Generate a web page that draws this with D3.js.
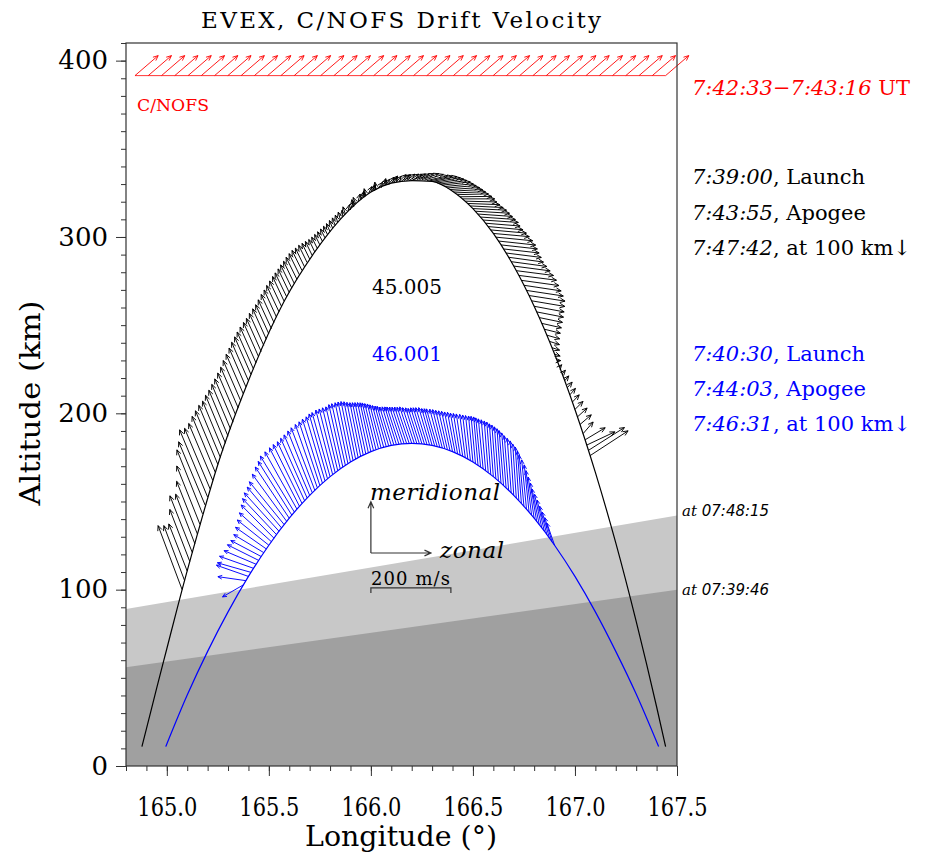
<!DOCTYPE html>
<html>
<head>
<meta charset="utf-8">
<script src="https://cdn.jsdelivr.net/npm/d3@7"></script>
<style>
body { margin: 0; background: #fff; }
</style>
</head>
<body>
<script>
// ---- data ----
// rocket 45.005 (black) trajectory, lon (deg) / alt (km)
var blackTrackLon = [164.878, 164.9, 164.95, 165.0, 165.05, 165.075, 165.15, 165.25, 165.4, 165.575, 165.725, 165.85, 166.0, 166.1, 166.2, 166.3, 166.4, 166.5, 166.6, 166.7, 166.8, 166.9, 167.0, 167.1, 167.2, 167.3, 167.4, 167.444];
var blackTrackAlt = [11, 21, 44, 66.5, 89, 100, 131.5, 171, 218.5, 263.5, 291.5, 310, 325.5, 330.5, 332, 331.5, 326, 316.1, 302, 283.5, 260.7, 233.6, 202.2, 166.5, 126.5, 82, 33.6, 11];

// rocket 46.001 (blue) trajectory
var blueTrackLon = [164.995, 165.1, 165.2, 165.3, 165.4, 165.5, 165.6, 165.7, 165.8, 165.9, 166.0, 166.1, 166.2, 166.3, 166.4, 166.5, 166.6, 166.7, 166.8, 166.9, 167.0, 167.1, 167.2, 167.3, 167.41];
var blueTrackAlt = [11, 40.2, 65, 87.4, 107.5, 125.2, 140.5, 153.5, 164.1, 172.4, 178.3, 181.8, 183, 181.8, 178.3, 172.4, 164.1, 153.5, 140.5, 125.2, 107.5, 87.4, 65, 40.8, 11];

// drift vectors: [lon, alt, zonal m/s, meridional m/s]
var blackVectors = [
  [165.075, 100, -60, 160], [165.0875, 105, -52, 138], [165.1, 110.5, -46, 118], [165.1125, 116, -50, 130],
  [165.125, 121, -56, 142], [165.1375, 126, -48, 124], [165.15, 131.5, -52, 132], [165.1625, 137, -58, 146],
  [165.175, 143, -64, 160], [165.1875, 148, -66, 158], [165.2, 152.5, -70, 168], [165.2125, 157, -64, 152],
  [165.225, 162, -60, 142], [165.2375, 166.5, -58, 140], [165.25, 171, -56, 134], [165.2625, 175, -54, 130],
  [165.275, 179, -51, 123], [165.2875, 183, -50, 120], [165.3, 187, -48, 115], [165.3125, 191, -47, 112],
  [165.325, 195, -46, 108], [165.3375, 199, -45, 105], [165.35, 203, -44, 102], [165.3625, 207, -44, 101],
  [165.375, 211, -43, 99], [165.3875, 215, -42, 97], [165.4, 218.5, -42, 96], [165.4125, 222, -41, 94],
  [165.425, 225, -41, 93], [165.4375, 228.5, -40, 90], [165.45, 232, -38, 86], [165.4625, 235, -37, 83],
  [165.475, 238.5, -36, 80], [165.4875, 242, -34, 76], [165.5, 245, -33, 73], [165.5125, 248, -33, 72],
  [165.525, 251.5, -32, 70], [165.5375, 254.5, -31, 68], [165.55, 257.5, -31, 66], [165.5625, 260.5, -30, 64],
  [165.575, 263.5, -29, 62], [165.5875, 266, -29, 60], [165.6, 268.5, -28, 59], [165.6125, 271, -28, 58],
  [165.625, 273.5, -27, 56], [165.6375, 276, -27, 55], [165.65, 278.5, -26, 53], [165.6625, 281, -25, 50],
  [165.675, 283, -23, 47], [165.6875, 285.5, -21, 43], [165.7, 287.5, -19, 39], [165.7125, 289.5, -17, 35],
  [165.725, 291.5, -15, 31], [165.7375, 293.5, -14, 28], [165.75, 295.5, -13, 26], [165.7625, 297.5, -12, 24],
  [165.775, 299.5, -11, 22], [165.7875, 301.3, -10, 21], [165.8, 303, -9, 20], [165.8125, 305, -8, 19],
  [165.825, 306.5, -7, 19], [165.8375, 308.3, -6, 18], [165.85, 310, -5, 18], [165.8625, 311.5, -2, 16],
  [165.875, 313, -6, 18], [165.8875, 314.5, 4, 17], [165.9, 316, 8, 18], [165.9125, 317.5, -3, 16],
  [165.925, 319, -6, 15], [165.9375, 320.3, 5, 18], [165.95, 321.5, 10, 18], [165.9625, 322.5, 1, 15],
  [165.975, 323.5, -4, 17], [165.9875, 324.5, 9, 18], [166.0, 325.5, 12, 16], [166.0125, 326.3, 4, 15],
  [166.025, 327, -3, 18], [166.0375, 327.8, 10, 14], [166.05, 328.5, 14, 17], [166.0625, 329, 5, 18],
  [166.075, 329.5, 8, 14], [166.0875, 330, 13, 17], [166.1, 330.5, 16, 18], [166.1125, 330.9, 9, 15],
  [166.125, 331.2, 12, 14], [166.1375, 331.5, 18, 17], [166.15, 331.7, 20, 16], [166.1625, 331.9, 17, 15],
  [166.175, 332, 21, 16], [166.1875, 332, 24, 16], [166.2, 332, 26, 15], [166.2125, 332.5, 28, 14],
  [166.225, 332.5, 31, 14], [166.2375, 332.5, 36, 15], [166.25, 332.5, 42, 15], [166.2625, 332.3, 47, 14],
  [166.275, 332, 52, 12], [166.2875, 331.8, 57, 12], [166.3, 331.5, 62, 12], [166.3125, 331.1, 64, 11],
  [166.325, 330.6, 66, 10], [166.3375, 330, 68, 9], [166.35, 329.4, 70, 8], [166.3625, 328.6, 71, 7],
  [166.375, 327.8, 72, 6], [166.3875, 326.9, 74, 5], [166.4, 326, 75, 4], [166.4125, 325, 76, 3],
  [166.425, 324, 77, 2], [166.4375, 322.8, 79, 1], [166.45, 321.6, 80, 0], [166.4625, 320.3, 79, -2],
  [166.475, 319, 80, -3], [166.4875, 317.6, 82, -4], [166.5, 316.1, 84, -4], [166.5125, 314.6, 85, -5],
  [166.525, 313, 86, -6], [166.5375, 311.3, 87, -6], [166.55, 309.6, 88, -6], [166.5625, 307.8, 86, -7],
  [166.575, 305.9, 87, -8], [166.5875, 304, 89, -8], [166.6, 302, 90, -8], [166.6125, 299.9, 92, -9],
  [166.625, 297.7, 93, -10], [166.6375, 295.5, 91, -10], [166.65, 293.2, 89, -10], [166.6625, 290.9, 88, -11],
  [166.675, 288.5, 87, -12], [166.6875, 286, 89, -12], [166.7, 283.5, 91, -12], [166.7125, 280.9, 93, -12],
  [166.725, 278.2, 94, -12], [166.7375, 275.4, 94, -13], [166.75, 272.6, 93, -14], [166.7625, 269.7, 92, -14],
  [166.775, 266.8, 90, -14], [166.7875, 263.8, 83, -14], [166.8, 260.7, 75, -14], [166.8125, 257.5, 67, -13],
  [166.825, 254.3, 58, -12], [166.8375, 251, 49, -11], [166.85, 247.7, 40, -10], [166.8625, 244.3, 32, -9],
  [166.875, 240.8, 25, -8], [166.8875, 237.2, 19, -6], [166.9, 233.6, 14, -5], [166.9125, 229.9, 9, 0],
  [166.925, 226.2, 5, 6], [166.9375, 222.4, 8, 9], [166.95, 218.5, 10, 12], [166.9625, 214.5, 12, 14],
  [166.975, 210.5, 14, 16], [166.9875, 206.4, 17, 18], [167.0, 202.2, 20, 20], [167.0125, 198, 24, 22],
  [167.025, 193.7, 28, 24], [167.04, 188.5, 25, 29], [167.05, 185, 50, 30], [167.058, 182, 70, 33],
  [167.066, 179, 90, 57], [167.074, 176, 95, 62]
];

var blueVectors = [
  [165.375, 102.7, -52, -30], [165.3875, 105.1, -70, 10], [165.4, 107.5, -80, 28], [165.4125, 109.8, -84, 24],
  [165.425, 112.1, -85, 30], [165.4375, 114.4, -80, 34], [165.45, 116.6, -78, 39], [165.4625, 118.8, -76, 40],
  [165.475, 121.0, -75, 45], [165.4875, 123.1, -77, 54], [165.5, 125.2, -79, 63], [165.5125, 127.2, -80, 72],
  [165.525, 129.2, -82, 83], [165.5375, 131.2, -85, 90], [165.55, 133.1, -87, 96], [165.5625, 135.0, -86, 102],
  [165.575, 136.9, -87, 107], [165.5875, 138.7, -86, 118], [165.6, 140.5, -85, 128], [165.6125, 142.3, -84, 134],
  [165.625, 144.0, -85, 140], [165.6375, 145.7, -80, 143], [165.65, 147.3, -75, 146], [165.6625, 148.9, -72, 147],
  [165.675, 150.5, -68, 147], [165.6875, 152.0, -66, 149], [165.7, 153.5, -64, 151], [165.7125, 155.0, -61, 154],
  [165.725, 156.4, -59, 156], [165.7375, 157.8, -55, 158], [165.75, 159.1, -52, 159], [165.7625, 160.4, -50, 160],
  [165.775, 161.7, -47, 160], [165.7875, 162.9, -46, 162], [165.8, 164.1, -45, 160], [165.8125, 165.3, -42, 161],
  [165.825, 166.4, -40, 159], [165.8375, 167.5, -38, 157], [165.85, 168.5, -36, 155], [165.8625, 169.5, -35, 156],
  [165.875, 170.5, -34, 154], [165.8875, 171.5, -32, 152], [165.9, 172.4, -31, 150], [165.9125, 173.3, -30, 147],
  [165.925, 174.1, -29, 143], [165.9375, 174.9, -28, 138], [165.95, 175.6, -27, 134], [165.9625, 176.3, -27, 131],
  [165.975, 177.0, -27, 128], [165.9875, 177.7, -27, 125], [166.0, 178.3, -27, 122], [166.0125, 178.9, -28, 119],
  [166.025, 179.4, -28, 115], [166.0375, 179.9, -28, 112], [166.05, 180.3, -28, 108], [166.0625, 180.8, -28, 104],
  [166.075, 181.2, -28, 101], [166.0875, 181.5, -29, 99], [166.1, 181.8, -29, 96], [166.1125, 182.1, -29, 95],
  [166.125, 182.3, -29, 94], [166.1375, 182.5, -30, 93], [166.15, 182.7, -30, 92], [166.1625, 182.8, -30, 91],
  [166.175, 182.9, -30, 91], [166.1875, 183.0, -30, 90], [166.2, 183.0, -30, 91], [166.2125, 183.0, -29, 89],
  [166.225, 182.9, -28, 89], [166.2375, 182.8, -28, 88], [166.25, 182.7, -28, 90], [166.2625, 182.5, -28, 91],
  [166.275, 182.3, -28, 92], [166.2875, 182.1, -27, 93], [166.3, 181.8, -26, 92], [166.3125, 181.5, -26, 93],
  [166.325, 181.2, -27, 94], [166.3375, 180.8, -25, 95], [166.35, 180.3, -24, 96], [166.3625, 179.9, -23, 96],
  [166.375, 179.4, -22, 97], [166.3875, 178.9, -21, 98], [166.4, 178.3, -20, 99], [166.4125, 177.7, -19, 101],
  [166.425, 177.0, -18, 102], [166.4375, 176.3, -17, 104], [166.45, 175.6, -16, 106], [166.4625, 174.9, -14, 108],
  [166.475, 174.1, -13, 110], [166.4875, 173.3, -12, 112], [166.5, 172.4, -11, 115], [166.5125, 171.5, -11, 118],
  [166.525, 170.5, -11, 121], [166.5375, 169.5, -12, 123], [166.55, 168.5, -12, 125], [166.5625, 167.5, -11, 127],
  [166.575, 166.4, -10, 129], [166.5875, 165.3, -10, 131], [166.6, 164.1, -10, 132], [166.6125, 162.9, -10, 134],
  [166.625, 161.7, -10, 135], [166.6375, 160.4, -10, 136], [166.65, 159.1, -11, 137], [166.6625, 157.8, -11, 137],
  [166.675, 156.4, -11, 136], [166.6875, 155.0, -10, 136], [166.7, 153.5, -9, 136], [166.7125, 152.0, -9, 135],
  [166.725, 150.5, -9, 134], [166.7375, 148.9, -10, 131], [166.75, 147.3, -12, 128], [166.7625, 145.7, -12, 123],
  [166.775, 144.0, -12, 118], [166.7875, 142.3, -14, 111], [166.8, 140.5, -15, 103], [166.8125, 138.7, -16, 96],
  [166.825, 136.9, -18, 89], [166.8375, 135.0, -18, 84], [166.85, 133.1, -18, 78], [166.8625, 131.2, -18, 71],
  [166.875, 129.2, -18, 65], [166.8875, 127.2, -18, 60], [166.9, 125.2, -19, 55]
];

// C/NOFS satellite pass
var cnofsLon = [164.844, 164.909, 164.974, 165.039, 165.104, 165.169, 165.234, 165.299, 165.364, 165.429,
  165.494, 165.559, 165.624, 165.689, 165.754, 165.819, 165.884, 165.949, 166.014, 166.079, 166.144,
  166.209, 166.274, 166.339, 166.404, 166.469, 166.534, 166.599, 166.664, 166.729, 166.794, 166.859,
  166.924, 166.989, 167.054, 167.119, 167.184, 167.249, 167.314, 167.379, 167.444];
var cnofsAlt = 391.5, cnofsU = 58, cnofsW = 50;

// shaded regions below the edges at the two times
var bandLon = [164.8, 167.5];
var lightAlt = [89, 142];   // at 07:48:15
var darkAlt = [56, 100];    // at 07:39:46

var altTicks = [0, 100, 200, 300, 400];
var lonTicks = [165.0, 165.5, 166.0, 166.5, 167.0, 167.5];

// ---- layout ----
var serif = "'DejaVu Serif', serif",
    sans = "'DejaVu Sans', sans-serif";

var margin = {top: 43, right: 256, bottom: 87, left: 126},
    width = 933 - margin.left - margin.right,
    height = 853 - margin.top - margin.bottom;

var svg = d3.select("body").append("svg")
    .attr("width", 933)
    .attr("height", 853)
    .style("font-family", serif);

svg.append("rect").attr("width", 933).attr("height", 853).attr("fill", "#fff");

var plot = svg.append("g")
    .attr("transform", "translate(" + margin.left + "," + margin.top + ")");

var x = d3.scaleLinear().domain([164.8, 167.5]).range([0, width]);
var y = d3.scaleLinear().domain([0, 410]).range([height, 0]);
var vel = d3.scaleLinear().domain([0, 200]).range([0, 80]);   // 200 m/s bar

function arrowPath(x0, y0, x1, y1, head) {
    var a = Math.atan2(y1 - y0, x1 - x0), s = 0.42;
    return "M" + x0 + "," + y0 + "L" + x1 + "," + y1 +
        "M" + (x1 - head * Math.cos(a - s)) + "," + (y1 - head * Math.sin(a - s)) +
        "L" + x1 + "," + y1 +
        "L" + (x1 - head * Math.cos(a + s)) + "," + (y1 - head * Math.sin(a + s));
}

function drawVectors(rows, color, head, sw) {
    plot.append("g")
        .selectAll("path")
        .data(rows)
        .enter()
            .append("path")
            .attr("d", function(d) {
                var x0 = x(d[0]), y0 = y(d[1]);
                return arrowPath(x0, y0, x0 + vel(d[2]), y0 - vel(d[3]), head);
            })
            .attr("fill", "none")
            .attr("stroke", color)
            .attr("stroke-width", sw);
}

// shaded bands
var band = d3.area()
    .x(function(d) { return x(d[0]); })
    .y0(y(0))
    .y1(function(d) { return y(d[1]); });

plot.append("path").datum(d3.zip(bandLon, lightAlt)).attr("fill", "#c8c8c8").attr("d", band);
plot.append("path").datum(d3.zip(bandLon, darkAlt)).attr("fill", "#a0a0a0").attr("d", band);

// trajectories
var track = d3.line()
    .x(function(d) { return x(d[0]); })
    .y(function(d) { return y(d[1]); })
    .curve(d3.curveMonotoneX);

plot.append("path").datum(d3.zip(blackTrackLon, blackTrackAlt))
    .attr("fill", "none").attr("stroke", "#000").attr("stroke-width", 1.2).attr("d", track);
plot.append("path").datum(d3.zip(blueTrackLon, blueTrackAlt))
    .attr("fill", "none").attr("stroke", "#0000ff").attr("stroke-width", 1.2).attr("d", track);

drawVectors(blackVectors, "#000", 5.5, 0.95);
drawVectors(blueVectors, "#0000ff", 4.5, 0.95);

// C/NOFS
plot.append("line")
    .attr("x1", x(cnofsLon[0])).attr("x2", x(cnofsLon[cnofsLon.length - 1]))
    .attr("y1", y(cnofsAlt)).attr("y2", y(cnofsAlt))
    .attr("stroke", "#ff0000").attr("stroke-width", 0.8);
drawVectors(cnofsLon.map(function(l) { return [l, cnofsAlt, cnofsU, cnofsW]; }), "#ff0000", 5.5, 0.9);

// scale legend
var legLon = 166.0, legAlt = 120.8;
plot.append("path")
    .attr("d", arrowPath(x(legLon), y(legAlt), x(legLon), y(legAlt) - vel(128), 7))
    .attr("fill", "none").attr("stroke", "#333").attr("stroke-width", 1.2);
plot.append("path")
    .attr("d", arrowPath(x(legLon), y(legAlt), x(legLon) + vel(150), y(legAlt), 7))
    .attr("fill", "none").attr("stroke", "#333").attr("stroke-width", 1.2);
var barY = y(101);
plot.append("path")
    .attr("d", "M" + x(legLon) + "," + (barY + 5) + "V" + barY + "H" + (x(legLon) + vel(200)) + "V" + (barY + 5))
    .attr("fill", "none").attr("stroke", "#333").attr("stroke-width", 1.2);

// ---- axes ----
var yMinor = plot.append("g").call(d3.axisLeft(y).tickValues(d3.range(0, 411, 10)).tickSize(5).tickFormat(""));
var xMinor = plot.append("g").attr("transform", "translate(0," + height + ")")
    .call(d3.axisBottom(x).tickValues(d3.range(164.8, 167.55, 0.1)).tickSize(5).tickFormat(""));
var yAxis = plot.append("g")
    .call(d3.axisLeft(y).tickValues(altTicks).tickSize(10).tickPadding(8).tickFormat(d3.format("d")));
var xAxis = plot.append("g").attr("transform", "translate(0," + height + ")")
    .call(d3.axisBottom(x).tickValues(lonTicks).tickSize(10).tickPadding(22).tickFormat(d3.format(".1f")));

[yMinor, xMinor, yAxis, xAxis].forEach(function(g) {
    g.attr("font-family", null);
    g.select(".domain").remove();
    g.selectAll(".tick line").attr("stroke", "#333");
    g.selectAll("text").style("font-family", serif).style("font-size", "26px").attr("fill", "#000");
});
xAxis.selectAll("text").attr("textLength", 60).attr("lengthAdjust", "spacingAndGlyphs");

plot.append("rect")
    .attr("width", width).attr("height", height)
    .attr("fill", "none").attr("stroke", "#333").attr("stroke-width", 1.2);

// ---- text ----
svg.append("text").attr("x", 401).attr("y", 28).attr("text-anchor", "middle")
    .style("font-size", "23px").attr("textLength", 400).attr("lengthAdjust", "spacing")
    .text("EVEX, C/NOFS Drift Velocity");

svg.append("text").attr("x", 401).attr("y", 846).attr("text-anchor", "middle")
    .style("font-size", "27px").attr("textLength", 192).attr("lengthAdjust", "spacingAndGlyphs")
    .text("Longitude (\u00b0)");

svg.append("text").attr("transform", "translate(40,403) rotate(-90)").attr("text-anchor", "middle")
    .style("font-size", "27px").attr("textLength", 205).attr("lengthAdjust", "spacingAndGlyphs")
    .text("Altitude (km)");

svg.append("text").attr("x", 137).attr("y", 111).style("font-size", "17px").attr("fill", "#ff0000")
    .attr("textLength", 72).attr("lengthAdjust", "spacingAndGlyphs").text("C/NOFS");

svg.append("text").attr("x", 372).attr("y", 294).style("font-size", "20px").attr("fill", "#000")
    .attr("textLength", 70).text("45.005");
svg.append("text").attr("x", 372).attr("y", 361).style("font-size", "20px").attr("fill", "#0000ff")
    .attr("textLength", 70).text("46.001");

function sideLabel(yy, time, rest, color) {
    var t = svg.append("text").attr("x", 692).attr("y", yy).style("font-size", "21px").attr("fill", color);
    t.append("tspan").style("font-style", "italic").text(time);
    t.append("tspan").text(rest);
}
sideLabel(95, "7:42:33\u22127:43:16", " UT", "#ff0000");
sideLabel(184, "7:39:00", ", Launch", "#000");
sideLabel(220, "7:43:55", ", Apogee", "#000");
sideLabel(255, "7:47:42", ", at 100 km\u2193", "#000");
sideLabel(361, "7:40:30", ", Launch", "#0000ff");
sideLabel(396, "7:44:03", ", Apogee", "#0000ff");
sideLabel(431, "7:46:31", ", at 100 km\u2193", "#0000ff");

svg.append("text").attr("x", 370).attr("y", 500).style("font-size", "23px").style("font-style", "italic")
    .attr("textLength", 130).text("meridional");
svg.append("text").attr("x", 440).attr("y", 558).style("font-size", "23px").style("font-style", "italic")
    .attr("textLength", 64).text("zonal");
svg.append("text").attr("x", 371).attr("y", 585).style("font-size", "18px")
    .attr("textLength", 79).text("200 m/s");

function timeLabel(yy, time) {
    var t = svg.append("text").attr("x", 682).attr("y", yy).style("font-size", "15px").style("font-style", "italic");
    t.append("tspan").text("at ");
    t.append("tspan").style("font-family", sans).text(time);
}
timeLabel(516, "07:48:15");
timeLabel(595, "07:39:46");
</script>
</body>
</html>
